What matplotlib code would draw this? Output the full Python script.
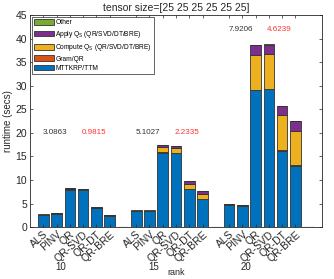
import numpy as np
import matplotlib
matplotlib.use("Agg")
from matplotlib import pyplot as plt
from matplotlib import transforms

methods = ["ALS", "PINV", "QR", "QR-SVD", "QR-DT", "QR-BRE"]
ranks = ["10", "15", "20"]

# runtime components (secs), one row per rank, one column per method
mttkrp = np.array([[2.50, 2.75, 7.95, 7.90, 4.05, 2.45],
                   [3.40, 3.40, 15.75, 15.65, 8.05, 5.95],
                   [4.75, 4.55, 29.1, 29.3, 16.2, 13.0]])
gram = np.array([[0.15, 0.15, 0.05, 0.05, 0.05, 0.05],
                 [0.10, 0.10, 0.10, 0.10, 0.10, 0.10],
                 [0.10, 0.10, 0.10, 0.10, 0.10, 0.10]])
compute_q = np.array([[0.0, 0.0, 0.15, 0.10, 0.05, 0.05],
                      [0.0, 0.0, 1.15, 1.05, 1.05, 1.05],
                      [0.0, 0.0, 7.40, 7.40, 7.40, 7.40]])
apply_q = np.array([[0.0, 0.0, 0.15, 0.10, 0.10, 0.05],
                    [0.0, 0.0, 0.40, 0.40, 0.55, 0.50],
                    [0.0, 0.0, 1.95, 1.95, 1.90, 1.95]])
other = np.array([[0.03, 0.03, 0.03, 0.03, 0.03, 0.03],
                  [0.03, 0.03, 0.03, 0.03, 0.03, 0.03],
                  [0.03, 0.03, 0.03, 0.03, 0.03, 0.03]])

# speedup annotations per rank
ann_black = ["3.0863", "5.1027", "7.9206"]
ann_red = ["0.9815", "2.2335", "4.6239"]
ann_y = [20, 20, 42]

components = [mttkrp, gram, compute_q, apply_q, other]
labels = ["MTTKRP/TTM", "Gram/QR", "Compute Q$_S$ (QR/SVD/DT/BRE)",
          "Apply Q$_S$ (QR/SVD/DT/BRE)", "Other"]
colors = ["#0072BD", "#D95319", "#EDB120", "#7E2F8E", "#77AC30"]

plt.rcParams['font.family'] = ['Liberation Sans', 'DejaVu Sans']
plt.rcParams['mathtext.fontset'] = 'custom'
plt.rcParams['mathtext.rm'] = 'Liberation Sans'
plt.rcParams['mathtext.it'] = 'Liberation Sans'
fig = plt.figure(figsize=(3.34, 2.79), dpi=100)
ax = fig.add_axes([0.09, 0.186, 0.874, 0.76])

ng, nm = mttkrp.shape
slot = nm + 1
pos = np.array([g * slot + np.arange(1, nm + 1) for g in range(ng)])

handles = []
for g in range(ng):
    bottom = np.zeros(nm)
    for k, comp in enumerate(components):
        h = ax.bar(pos[g], comp[g], 0.8, bottom=bottom, color=colors[k],
                   edgecolor="0.2", linewidth=0.6, label=labels[k])
        bottom = bottom + comp[g]
        if g == 0:
            handles.append(h)
    # empty spacer bar between groups
    ax.bar([g * slot + slot], [0], 0.8, color=colors[0], edgecolor="0.1",
           linewidth=0.8)
    ax.text(g * slot + 1.9, ann_y[g], ann_black[g], fontsize=5.8,
            color="0.2", ha="center", va="center")
    ax.text(g * slot + 4.8, ann_y[g], ann_red[g], fontsize=5.8,
            color="#FF3030", ha="center", va="center")

ax.set_xlim(0, ng * slot + 1)
ax.set_ylim(0, 45)
ax.set_yticks(np.arange(0, 46, 5))
ax.set_xticks(pos.ravel())
ax.set_xticklabels(methods * ng, rotation=42, ha="right",
                   rotation_mode="anchor", fontsize=6)
ax.tick_params(direction="in", top=True, right=True, length=2.5,
               width=0.5, labelsize=7.5, colors="0.15", pad=2)
ax.tick_params(axis="x", pad=1.5)
for s in ax.spines.values():
    s.set_linewidth(0.6)
    s.set_color("0.15")

trans = transforms.blended_transform_factory(ax.transData, ax.transAxes)
for g in range(ng):
    ax.text(g * slot + 2.3, -0.188, ranks[g], transform=trans, fontsize=7,
            ha="center", va="center", color="0.15")
ax.text(0.5, -0.212, "rank", transform=ax.transAxes, fontsize=6.5,
        ha="center", va="center", color="0.15")
ax.set_ylabel("runtime (secs)", fontsize=7, color="0.15", labelpad=2)
ax.set_title("tensor size=[25 25 25 25 25 25]", fontsize=7.5, color="0.15",
             pad=3)

leg = ax.legend(handles[::-1], labels[::-1], loc="upper left", fontsize=4.8,
                handlelength=3.0, handleheight=0.9, borderaxespad=0.3,
                labelspacing=0.35, handletextpad=0.15, fancybox=False,
                framealpha=1, edgecolor="0.15", borderpad=0.35)
leg.get_frame().set_linewidth(0.5)

fig.savefig("out.png", dpi=100)
